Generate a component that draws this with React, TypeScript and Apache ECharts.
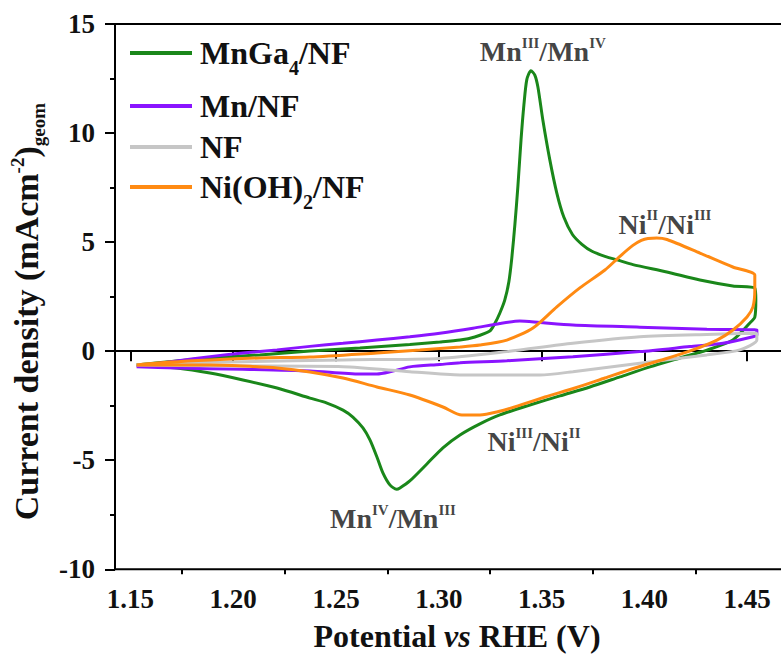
import React, { useEffect, useRef } from 'react';
import * as echarts from 'echarts';

const FONT = "'Liberation Serif', 'Times New Roman', Times, serif";

const seriesNames = ['MnGa4/NF', 'Mn/NF', 'NF', 'Ni(OH)2/NF'];
const legendLabels = ['MnGa{sub|4}/NF', 'Mn/NF', 'NF', 'Ni(OH){sub|2}/NF'];
const seriesColors = ['#1a871a', '#8a14ff', '#c6c6c6', '#ff8a12'];

const xTickValues = [1.15, 1.2, 1.25, 1.3, 1.35, 1.4, 1.45];
const xMinorTickValues = [1.175, 1.225, 1.275, 1.325, 1.375, 1.425];

// [potential (V vs RHE), current density (mA cm-2)] : anodic sweep, then cathodic sweep
const mnGa4NF = [
  [1.153, -0.63], [1.1725, -0.45], [1.1887, -0.31], [1.2129, -0.17], [1.2373, 0.01], [1.2616, 0.15],
  [1.2859, 0.31], [1.3005, 0.42], [1.3103, 0.51], [1.3175, 0.65], [1.3248, 0.92], [1.3273, 1.28],
  [1.3297, 1.75], [1.3321, 2.35], [1.3341, 3.2], [1.3355, 4.27], [1.337, 5.8], [1.3385, 7.6],
  [1.34, 9.7], [1.3414, 11.3], [1.3428, 12.45], [1.3448, 12.86], [1.3467, 12.66], [1.3482, 12.11],
  [1.3506, 10.6], [1.354, 8.77], [1.3574, 7.25], [1.3608, 6.15], [1.365, 5.35], [1.3696, 4.9],
  [1.3745, 4.58], [1.3808, 4.35], [1.388, 4.15], [1.3944, 3.97], [1.4109, 3.63], [1.427, 3.26],
  [1.443, 2.99], [1.4537, 2.9],
  [1.4542, 2.35], [1.4537, 1.56], [1.4513, 1.29], [1.443, 0.51], [1.4304, 0.05], [1.4173, -0.31],
  [1.4027, -0.72], [1.3881, -1.18], [1.3735, -1.64], [1.3589, -2.05], [1.3443, -2.47], [1.3297, -2.92],
  [1.32, -3.33], [1.3103, -3.84], [1.302, -4.43], [1.2942, -5.17], [1.2859, -5.95], [1.2811, -6.27],
  [1.2795, -6.33], [1.2762, -6.13], [1.2728, -5.58], [1.2699, -4.85], [1.2665, -4.07], [1.2631, -3.52],
  [1.2582, -3.02], [1.2534, -2.7], [1.2456, -2.38], [1.2373, -2.15], [1.2213, -1.69], [1.2047, -1.32],
  [1.1887, -1.0], [1.1726, -0.77], [1.153, -0.63],
];

const mnNF = [
  [1.153, -0.71], [1.1725, -0.45], [1.1887, -0.25], [1.2047, -0.08], [1.2213, 0.06], [1.2373, 0.22],
  [1.2534, 0.36], [1.2699, 0.51], [1.2859, 0.66], [1.3005, 0.82], [1.3166, 1.05], [1.3297, 1.27],
  [1.3394, 1.38], [1.3492, 1.31], [1.3652, 1.2], [1.3978, 1.1], [1.4304, 1.0], [1.4547, 0.97],
  [1.4547, 0.74], [1.4528, 0.66], [1.4382, 0.36], [1.4221, 0.21], [1.3978, -0.02], [1.3652, -0.25],
  [1.3331, -0.44], [1.3103, -0.53], [1.3005, -0.61], [1.2859, -0.72], [1.2762, -0.95], [1.2699, -1.05],
  [1.2616, -1.05], [1.2373, -0.91], [1.2047, -0.83], [1.1726, -0.77], [1.153, -0.71],
];

const bareNF = [
  [1.153, -0.63], [1.1741, -0.54], [1.2047, -0.48], [1.2534, -0.4], [1.3005, -0.33], [1.3331, -0.02],
  [1.3652, 0.36], [1.3978, 0.66], [1.4304, 0.77], [1.4547, 0.82],
  [1.4547, 0.51], [1.4464, 0.06], [1.4304, -0.17], [1.3978, -0.55], [1.3652, -0.94], [1.3492, -1.09],
  [1.3331, -1.09], [1.3103, -1.09], [1.2859, -0.94], [1.2534, -0.71], [1.2047, -0.68], [1.1741, -0.66],
  [1.153, -0.63],
];

const niOH2NF = [
  [1.153, -0.63], [1.1692, -0.5], [1.1887, -0.4], [1.213, -0.31], [1.2373, -0.27], [1.2699, -0.08],
  [1.2908, 0.05], [1.3103, 0.19], [1.32, 0.28], [1.3331, 0.51], [1.3458, 1.06], [1.3574, 2.03],
  [1.3686, 2.9], [1.3808, 3.72], [1.3881, 4.35], [1.3944, 4.85], [1.3985, 5.08], [1.4017, 5.17],
  [1.406, 5.19], [1.411, 5.12], [1.427, 4.5], [1.443, 3.86], [1.4537, 3.49],
  [1.4537, 2.8], [1.4528, 2.03], [1.4499, 1.57], [1.4431, 0.97], [1.4353, 0.51], [1.4236, 0.06],
  [1.41, -0.36], [1.3954, -0.77], [1.3808, -1.23], [1.3662, -1.69], [1.3516, -2.1], [1.3385, -2.51],
  [1.3282, -2.79], [1.32, -2.93], [1.3112, -2.93], [1.302, -2.56], [1.2859, -2.01], [1.2699, -1.64],
  [1.2534, -1.23], [1.2373, -0.95], [1.2213, -0.77], [1.2047, -0.68], [1.1887, -0.63], [1.1692, -0.63],
  [1.153, -0.63],
];

const seriesData = [mnGa4NF, mnNF, bareNF, niOH2NF];

// redox-peak annotations and their anchors in data units (V, mA cm-2)
const annotationTexts = [
  '{m|Mn}{s|III}{m|/Mn}{s|IV}',
  '{m|Ni}{s|II}{m|/Ni}{s|III}',
  '{m|Ni}{s|III}{m|/Ni}{s|II}',
  '{m|Mn}{s|IV}{m|/Mn}{s|III}',
];
const annotationAnchors = [
  [1.3506, 13.72],
  [1.41, 5.83],
  [1.3463, -4.16],
  [1.2777, -7.69],
];

const legendTops = [28, 89, 130, 162];

export default function App() {
  const ref = useRef<HTMLDivElement>(null);

  useEffect(() => {
    if (!ref.current) return;
    const chart = echarts.init(ref.current, null, { renderer: 'svg' });

    const baseText = { fontFamily: FONT, fontWeight: 'bold' as const, color: '#111' };

    const lineSeries = seriesNames.map((name, i) => ({
      name,
      type: 'line',
      data: seriesData[i],
      symbol: 'none',
      showSymbol: false,
      smooth: 0.25,
      lineStyle: { width: 3, color: seriesColors[i] },
      itemStyle: { color: seriesColors[i] },
      z: 2 + i,
    }));

    const annotationSeries = {
      name: 'annotations',
      type: 'scatter',
      silent: true,
      symbolSize: 1,
      itemStyle: { color: 'rgba(0,0,0,0)' },
      z: 10,
      data: annotationAnchors.map((p, i) => ({
        value: p,
        label: { formatter: annotationTexts[i] },
      })),
      label: {
        show: true,
        position: 'inside',
        ...baseText,
        fontSize: 28,
        rich: {
          m: { ...baseText, fontSize: 28, lineHeight: 30 },
          s: { ...baseText, fontSize: 15, lineHeight: 15, padding: [0, 0, 18, 0] },
        },
      },
    };

    const legends = seriesNames.map((name, i) => ({
      data: [{ name, icon: 'rect' }],
      orient: 'vertical',
      left: 130,
      top: legendTops[i],
      padding: 0,
      itemWidth: 62,
      itemHeight: 4,
      itemGap: 0,
      selectedMode: false,
      formatter: () => legendLabels[i],
      textStyle: {
        ...baseText,
        fontSize: 32,
        lineHeight: 34,
        padding: [0, 0, 0, 3],
        rich: {
          sub: { ...baseText, fontSize: 20, lineHeight: 20, padding: [30, 0, 0, 0] },
        },
      },
    }));

    const option = {
      animation: false,
      backgroundColor: '#ffffff',
      grid: {
        left: 115,
        top: 24,
        right: -3,
        bottom: 87.7,
        outerBoundsMode: 'none',
        containLabel: false,
        show: true,
        borderColor: '#000',
        borderWidth: 2,
        backgroundColor: 'transparent',
      },
      legend: legends,
      xAxis: [
        {
          type: 'value',
          min: 1.1425,
          max: 1.4679,
          name: 'Potential {i|vs} RHE (V)',
          nameLocation: 'middle',
          nameGap: 50,
          nameTextStyle: {
            ...baseText,
            fontSize: 32,
            lineHeight: 34,
            padding: [0, 0, 0, 15],
            rich: { i: { ...baseText, fontSize: 32, lineHeight: 34, fontStyle: 'italic' } },
          },
          axisLine: { show: true, lineStyle: { color: '#000', width: 2 } },
          axisTick: { show: true, length: 10, customValues: xTickValues, lineStyle: { color: '#000', width: 2 } },
          axisLabel: {
            ...baseText,
            fontSize: 27,
            margin: 16,
            customValues: xTickValues,
            formatter: (v: number) => v.toFixed(2),
          },
          splitLine: { show: false },
        },
        {
          type: 'value',
          min: 1.1425,
          max: 1.4679,
          position: 'bottom',
          axisLine: { show: false },
          axisTick: { show: true, length: 5, customValues: xMinorTickValues, lineStyle: { color: '#000', width: 2 } },
          axisLabel: { show: false },
          splitLine: { show: false },
        },
      ],
      yAxis: {
        type: 'value',
        min: -10,
        max: 15,
        interval: 5,
        name: 'Current density (mAcm{sup|-2}){sub|geom}',
        nameLocation: 'middle',
        nameRotate: 90,
        nameGap: 66,
        nameTextStyle: {
          ...baseText,
          fontSize: 34,
          lineHeight: 36,
          padding: [0, 30, 0, 0],
          rich: {
            sup: { ...baseText, fontSize: 19, lineHeight: 19, padding: [0, 0, 18, 0] },
            sub: { ...baseText, fontSize: 19, lineHeight: 19, padding: [24, 0, 0, 0] },
          },
        },
        axisLine: { show: true, lineStyle: { color: '#000', width: 2 } },
        axisTick: { show: true, length: 10, lineStyle: { color: '#000', width: 2 } },
        minorTick: { show: true, splitNumber: 2, length: 5, lineStyle: { color: '#000', width: 2 } },
        axisLabel: { ...baseText, fontSize: 27, margin: 20 },
        splitLine: { show: false },
        minorSplitLine: { show: false },
      },
      series: [...lineSeries, annotationSeries],
    };

    chart.setOption(option as any);
    return () => chart.dispose();
  }, []);

  return (
    <div
      ref={ref}
      style={{ width: 781, height: 657, position: 'absolute', left: 0, top: 0 }}
    />
  );
}
